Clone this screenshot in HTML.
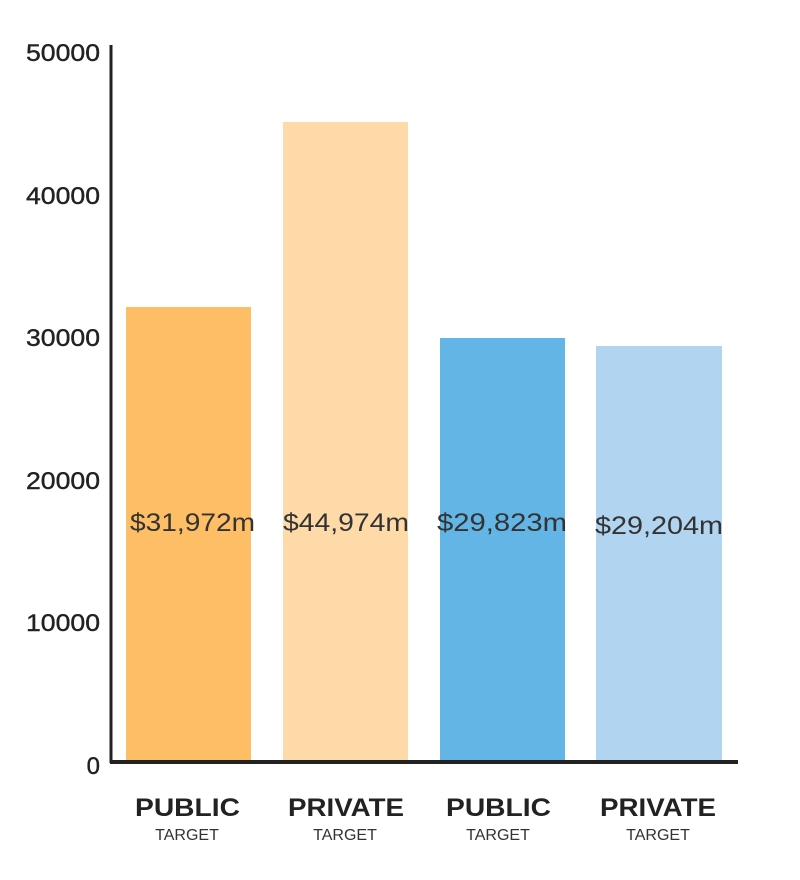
<!DOCTYPE html><html><head><style>body{margin:0;background:#fff;width:800px;height:875px;overflow:hidden}</style></head><body>
<svg width="800" height="875" xmlns="http://www.w3.org/2000/svg" font-family="Liberation Sans, sans-serif">
<rect x="126" y="307" width="125" height="454" fill="#FDBE65"/>
<rect x="283" y="122" width="125" height="639" fill="#FDDAA8"/>
<rect x="440" y="338" width="125" height="423" fill="#63B5E5"/>
<rect x="596" y="346" width="126" height="415" fill="#B1D5F0"/>
<line x1="111" y1="45" x2="111" y2="763" stroke="#222" stroke-width="3"/>
<line x1="110" y1="762" x2="738" y2="762" stroke="#222" stroke-width="4"/>
<g font-size="24" fill="#222" text-anchor="end" stroke="#222" stroke-width="0.4">
<text x="100" y="61" textLength="74" lengthAdjust="spacingAndGlyphs">50000</text><text x="100" y="204" textLength="74" lengthAdjust="spacingAndGlyphs">40000</text><text x="100" y="346" textLength="74" lengthAdjust="spacingAndGlyphs">30000</text><text x="100" y="489" textLength="74" lengthAdjust="spacingAndGlyphs">20000</text><text x="100" y="631" textLength="74" lengthAdjust="spacingAndGlyphs">10000</text><text x="100" y="774">0</text>
</g>
<g font-size="25" fill="#333">
<text x="130" y="531" textLength="125" lengthAdjust="spacingAndGlyphs">$31,972m</text><text x="283" y="531" textLength="126" lengthAdjust="spacingAndGlyphs">$44,974m</text><text x="437" y="531" textLength="130" lengthAdjust="spacingAndGlyphs">$29,823m</text><text x="595" y="534" textLength="128" lengthAdjust="spacingAndGlyphs">$29,204m</text>
</g>
<g font-size="25" font-weight="bold" fill="#222">
<text x="135" y="816" textLength="105" lengthAdjust="spacingAndGlyphs">PUBLIC</text><text x="288" y="816" textLength="116" lengthAdjust="spacingAndGlyphs">PRIVATE</text><text x="446" y="816" textLength="105" lengthAdjust="spacingAndGlyphs">PUBLIC</text><text x="600" y="816" textLength="116" lengthAdjust="spacingAndGlyphs">PRIVATE</text>
</g>
<g font-size="16" fill="#333" text-anchor="middle">
<text x="187" y="840">TARGET</text><text x="345" y="840">TARGET</text><text x="498" y="840">TARGET</text><text x="658" y="840">TARGET</text>
</g>
</svg></body></html>
